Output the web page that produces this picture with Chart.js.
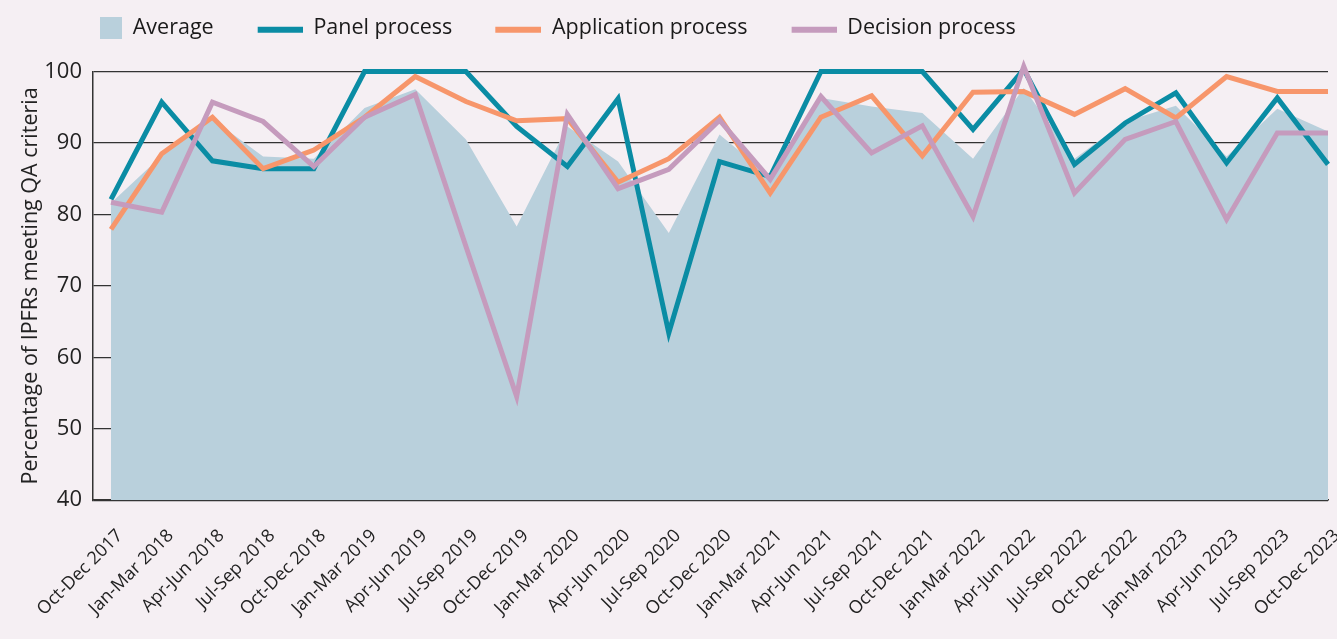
<!DOCTYPE html>
<html>
<head>
<meta charset="utf-8">
<script src="https://cdn.jsdelivr.net/npm/chart.js@4.4.1/dist/chart.umd.min.js"></script>
<style>
  body { margin: 0; background: #f5eff3; }
  canvas { display: block; }
</style>
</head>
<body>
<canvas id="qaChart" width="1337" height="639"></canvas>
<script>
var quarters = ['Oct-Dec 2017','Jan-Mar 2018','Apr-Jun 2018','Jul-Sep 2018','Oct-Dec 2018',
  'Jan-Mar 2019','Apr-Jun 2019','Jul-Sep 2019','Oct-Dec 2019','Jan-Mar 2020','Apr-Jun 2020',
  'Jul-Sep 2020','Oct-Dec 2020','Jan-Mar 2021','Apr-Jun 2021','Jul-Sep 2021','Oct-Dec 2021',
  'Jan-Mar 2022','Apr-Jun 2022','Jul-Sep 2022','Oct-Dec 2022','Jan-Mar 2023','Apr-Jun 2023',
  'Jul-Sep 2023','Oct-Dec 2023'];

var average = [81.6, 88.2, 93.3, 88.1, 87.8, 94.9, 97.5, 90.5, 78.3, 92.3, 87.4, 77.4, 91.2,
  85.3, 96.3, 95.1, 94.2, 87.8, 97.7, 87.8, 93.0, 95.2, 88.1, 94.8, 91.6];
var panel = [82.1, 95.7, 87.5, 86.4, 86.4, 100, 100, 100, 92.3, 86.7, 96.2, 63.4, 87.4,
  85.3, 100, 100, 100, 91.9, 100.3, 87.0, 92.8, 97.0, 87.2, 96.3, 87.0];
var application = [77.9, 88.5, 93.6, 86.4, 89.0, 93.6, 99.3, 95.8, 93.1, 93.4, 84.5, 87.8, 93.6,
  83.0, 93.6, 96.6, 88.2, 97.1, 97.2, 94.0, 97.6, 93.5, 99.3, 97.2, 97.2];
var decision = [81.7, 80.3, 95.7, 93.0, 86.7, 93.6, 96.8, 75.5, 54.5, 94.0, 83.6, 86.3, 93.2,
  84.9, 96.5, 88.6, 92.4, 79.7, 100.7, 83.0, 90.5, 93.0, 79.3, 91.4, 91.4];
var yTicks = [40, 50, 60, 70, 80, 90, 100];

var cAvg = '#b9d0dc', cPanel = '#0a8ca4', cApp = '#f7966b', cDec = '#c59bbd';

// legend swatches (box 75 wide, swatch sits at its right end)
function swatch(color, w, h, y) {
  var c = document.createElement('canvas');
  c.width = 75; c.height = 22;
  var g = c.getContext('2d');
  g.fillStyle = color;
  g.fillRect(75 - w, y, w, h);
  return c;
}
var swatches = {
  0: swatch(cDec, 45, 6, 10),
  1: swatch(cApp, 46, 6, 10),
  2: swatch(cPanel, 45, 6, 10),
  3: swatch(cAvg, 22, 22, 0)
};

function series(label, values, color) {
  return {
    label: label,
    data: values,
    borderColor: color,
    backgroundColor: color,
    borderWidth: 5,
    pointRadius: 0,
    tension: 0,
    fill: false,
    clip: false
  };
}

var ctx = document.getElementById('qaChart');
var qaChart = new Chart(ctx, {
  type: 'line',
  data: {
    labels: quarters.map(function(q, i) { return i; }),
    // drawn last-to-first, so Average sits at the back; legend is reversed
    datasets: [
      series('Decision process', decision, cDec),
      series('Application process', application, cApp),
      series('Panel process', panel, cPanel),
      {
        label: 'Average',
        data: average,
        borderWidth: 0,
        borderColor: cAvg,
        backgroundColor: cAvg,
        pointRadius: 0,
        fill: 'start'
      }
    ]
  },
  options: {
    responsive: false,
    animation: false,
    devicePixelRatio: 1,
    layout: { padding: { left: 33, top: 3, right: 9, bottom: 2 } },
    plugins: {
      tooltip: { enabled: false },
      legend: {
        position: 'top',
        align: 'start',
        reverse: true,
        labels: {
          usePointStyle: true,
          pointStyleWidth: 75,
          padding: 14,
          color: '#1a1a1a',
          font: { family: 'Open Sans', size: 21.5 },
          generateLabels: function(chart) {
            var items = Chart.defaults.plugins.legend.labels.generateLabels(chart);
            items.forEach(function(it) { it.pointStyle = swatches[it.datasetIndex]; });
            return items;
          }
        }
      }
    },
    scales: {
      x: {
        type: 'linear',
        min: -0.355,
        max: 24,
        afterBuildTicks: function(s) {
          s.ticks = quarters.map(function(q, i) { return { value: i }; });
        },
        afterFit: function(s) { s.paddingLeft = 0; s.paddingRight = 0; },
        grid: { display: false },
        border: { display: true, color: '#333', width: 1.5 },
        ticks: {
          autoSkip: false,
          maxRotation: 45,
          minRotation: 45,
          padding: 17,
          labelOffset: 9,
          color: '#222',
          font: { family: 'Open Sans', size: 18 },
          callback: function(v) { return quarters[v]; }
        }
      },
      gap: {
        type: 'linear',
        position: 'top',
        ticks: { display: false },
        grid: { display: false, drawTicks: false },
        border: { display: false },
        afterFit: function(s) { s.height = 23; }
      },
      y: {
        min: 40,
        max: 100,
        afterBuildTicks: function(s) {
          s.ticks = yTicks.map(function(v) { return { value: v }; });
        },
        afterFit: function(s) { s.width = 60; },
        grid: { color: '#333', lineWidth: 1.2, drawTicks: false },
        border: { display: true, color: '#333', width: 1.5 },
        ticks: {
          padding: 11,
          color: '#222',
          font: { family: 'Open Sans', size: 22 }
        },
        title: {
          display: true,
          text: 'Percentage of IPFRs meeting QA criteria',
          color: '#222',
          font: { family: 'Open Sans', size: 21.5 },
          padding: { top: -15, bottom: 0 }
        }
      }
    }
  }
});
</script>
</body>
</html>
